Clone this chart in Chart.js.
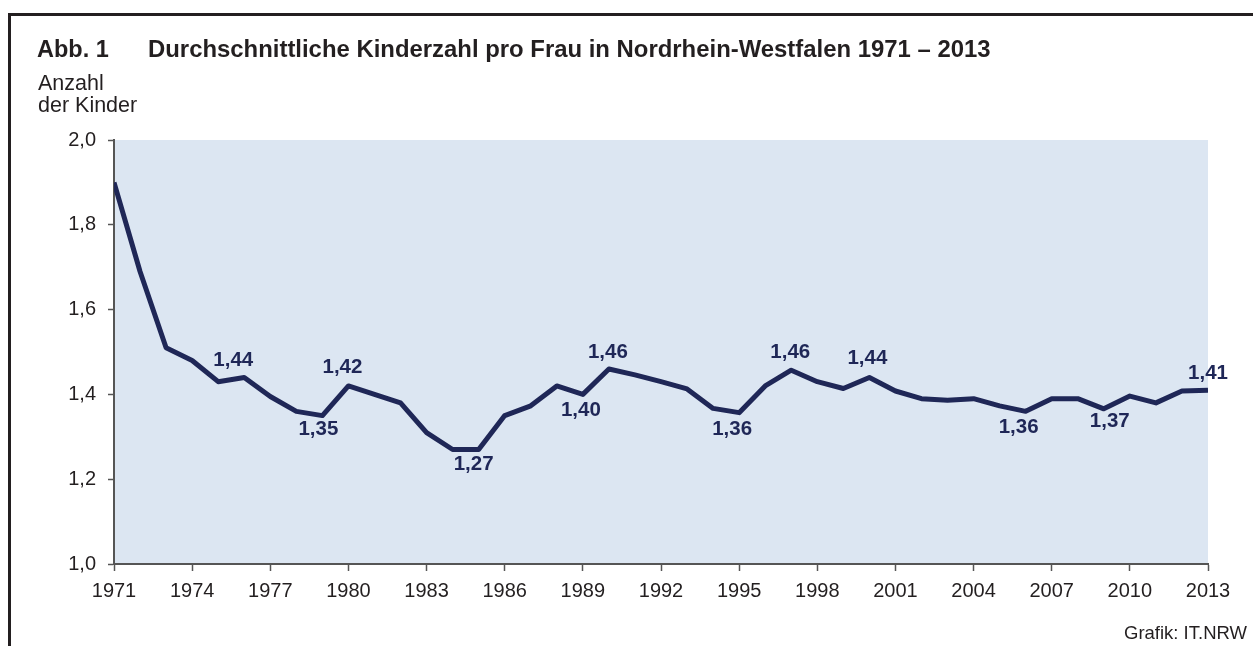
<!DOCTYPE html>
<html lang="de">
<head>
<meta charset="utf-8">
<title>Durchschnittliche Kinderzahl pro Frau in Nordrhein-Westfalen 1971 – 2013</title>
<script src="https://cdn.jsdelivr.net/npm/chart.js@4/dist/chart.umd.min.js"></script>
<style>
  html, body { margin: 0; padding: 0; background: #fff; }
  body { width: 1253px; height: 646px; position: relative; overflow: hidden;
         font-family: "Liberation Sans", Arial, sans-serif; color: #231f20; }
  #frame { position: absolute; left: 8px; top: 13px; right: 0; bottom: 0;
           border-top: 3px solid #231f20; border-left: 3px solid #231f20; }
  #myChart { position: absolute; left: 0; top: 0; }
  .txt { position: absolute; white-space: nowrap; }
  #abb, #title { top: 35.5px; font-size: 23.5px; line-height: 26px; font-weight: bold; }
  #abb { left: 37px; }
  #title { left: 148px; font-size: 23.9px; }
  #yTitle { left: 38px; top: 72px; font-size: 21.5px; line-height: 22px; }
  #source { right: 6px; top: 622.5px; font-size: 18.5px; line-height: 20px; }
</style>
</head>
<body>
<div id="frame"></div>
<canvas id="myChart" width="1253" height="646"></canvas>
<div class="txt" id="abb">Abb. 1</div>
<div class="txt" id="title">Durchschnittliche Kinderzahl pro Frau in Nordrhein-Westfalen 1971 – 2013</div>
<div class="txt" id="yTitle">Anzahl<br>der Kinder</div>
<div class="txt" id="source">Grafik: IT.NRW</div>
<script>
// Jahre 1971 bis 2013
const years = [
  1971, 1972, 1973, 1974, 1975, 1976, 1977, 1978, 1979, 1980,
  1981, 1982, 1983, 1984, 1985, 1986, 1987, 1988, 1989, 1990,
  1991, 1992, 1993, 1994, 1995, 1996, 1997, 1998, 1999, 2000,
  2001, 2002, 2003, 2004, 2005, 2006, 2007, 2008, 2009, 2010,
  2011, 2012, 2013,
];

// Kinder je Frau
const children = [
  1.90, 1.69, 1.51, 1.48, 1.43, 1.44, 1.395, 1.36, 1.35, 1.42,
  1.40, 1.38, 1.31, 1.27, 1.27, 1.35, 1.373, 1.42, 1.40, 1.46,
  1.446, 1.43, 1.413, 1.367, 1.357, 1.42, 1.457, 1.43, 1.414, 1.44,
  1.408, 1.39, 1.386, 1.39, 1.373, 1.36, 1.39, 1.39, 1.366, 1.396,
  1.38, 1.408, 1.41,
];

// Jahre mit Wertbeschriftung
const labelYears = [1976, 1979, 1980, 1985, 1989, 1990, 1995, 1997, 2000, 2006, 2009, 2013];

const yTicks = [1.0, 1.2, 1.4, 1.6, 1.8, 2.0];

// offsets of the value labels (dx, dy) in px
const labelOffsets = {
  1976: [-11, -17], 1979: [-4, 14], 1980: [-6, -19], 1985: [-5, 15],
  1989: [-2, 16], 1990: [-1, -17], 1995: [-7, 17], 1997: [-1, -18],
  2000: [-2, -19], 2006: [-7, 16], 2009: [6, 13], 2013: [0, -17],
};

const navy = "#1f2757";
const fontFamily = "'Liberation Sans', Arial, sans-serif";

const fmt = (v, d) => v.toFixed(d).replace(".", ",");

// light blue plot background
const plotBackground = {
  id: "plotBackground",
  beforeDraw(chart) {
    const { ctx, chartArea } = chart;
    ctx.save();
    ctx.fillStyle = "#dce6f2";
    ctx.fillRect(chartArea.left, chartArea.top, chartArea.right - chartArea.left, chartArea.bottom - chartArea.top);
    ctx.restore();
  },
};

// value labels at the marked years
const valueLabels = {
  id: "valueLabels",
  afterDatasetsDraw(chart) {
    const { ctx } = chart;
    const xs = chart.scales.x;
    const ys = chart.scales.y;
    ctx.save();
    ctx.font = "bold 20.5px " + fontFamily;
    ctx.fillStyle = navy;
    ctx.textAlign = "center";
    ctx.textBaseline = "middle";
    labelYears.forEach((yr) => {
      const i = years.indexOf(yr);
      const off = labelOffsets[yr] || [0, -17];
      const x = xs.getPixelForValue(yr) + off[0];
      const y = ys.getPixelForValue(children[i]) + off[1];
      ctx.fillText(fmt(children[i], 2), x, y);
    });
    ctx.restore();
  },
};

const ctx = document.getElementById("myChart").getContext("2d");

const myChart = new Chart(ctx, {
  type: "line",
  data: {
    datasets: [
      {
        label: "Kinder je Frau",
        data: years.map((y, i) => ({ x: y, y: children[i] })),
        borderColor: navy,
        borderWidth: 5,
        borderJoinStyle: "round",
        pointRadius: 0,
        tension: 0,
        fill: false,
      },
    ],
  },
  options: {
    responsive: false,
    animation: false,
    layout: {
      padding: { left: 54, top: 140, right: 45, bottom: 42 },
    },
    plugins: {
      legend: { display: false },
      tooltip: { enabled: false },
      title: { display: false },
    },
    scales: {
      x: {
        type: "linear",
        min: 1971,
        max: 2013,
        afterBuildTicks(scale) {
          const t = [];
          for (let y = 1971; y <= 2013; y += 3) t.push({ value: y });
          scale.ticks = t;
        },
        afterFit(scale) {
          scale.height = 40;
        },
        grid: {
          drawOnChartArea: false,
          drawTicks: true,
          tickLength: 7,
          tickColor: "#555",
          tickWidth: 1.5,
        },
        border: { display: true, color: "#555", width: 2 },
        ticks: {
          padding: 8,
          maxRotation: 0,
          autoSkip: false,
          color: "#231f20",
          font: { family: fontFamily, size: 20 },
          callback: (v) => String(v),
        },
      },
      y: {
        min: 1.0,
        max: 2.0,
        afterBuildTicks(scale) {
          scale.ticks = yTicks.map((v) => ({ value: v }));
        },
        afterFit(scale) {
          scale.width = 60;
        },
        grid: {
          drawOnChartArea: false,
          drawTicks: true,
          tickLength: 6,
          tickColor: "#555",
          tickWidth: 1.5,
        },
        border: { display: true, color: "#555", width: 2 },
        ticks: {
          padding: 12,
          color: "#231f20",
          font: { family: fontFamily, size: 20 },
          callback: (v) => fmt(v, 1),
        },
      },
    },
  },
  plugins: [plotBackground, valueLabels],
});
</script>
</body>
</html>
